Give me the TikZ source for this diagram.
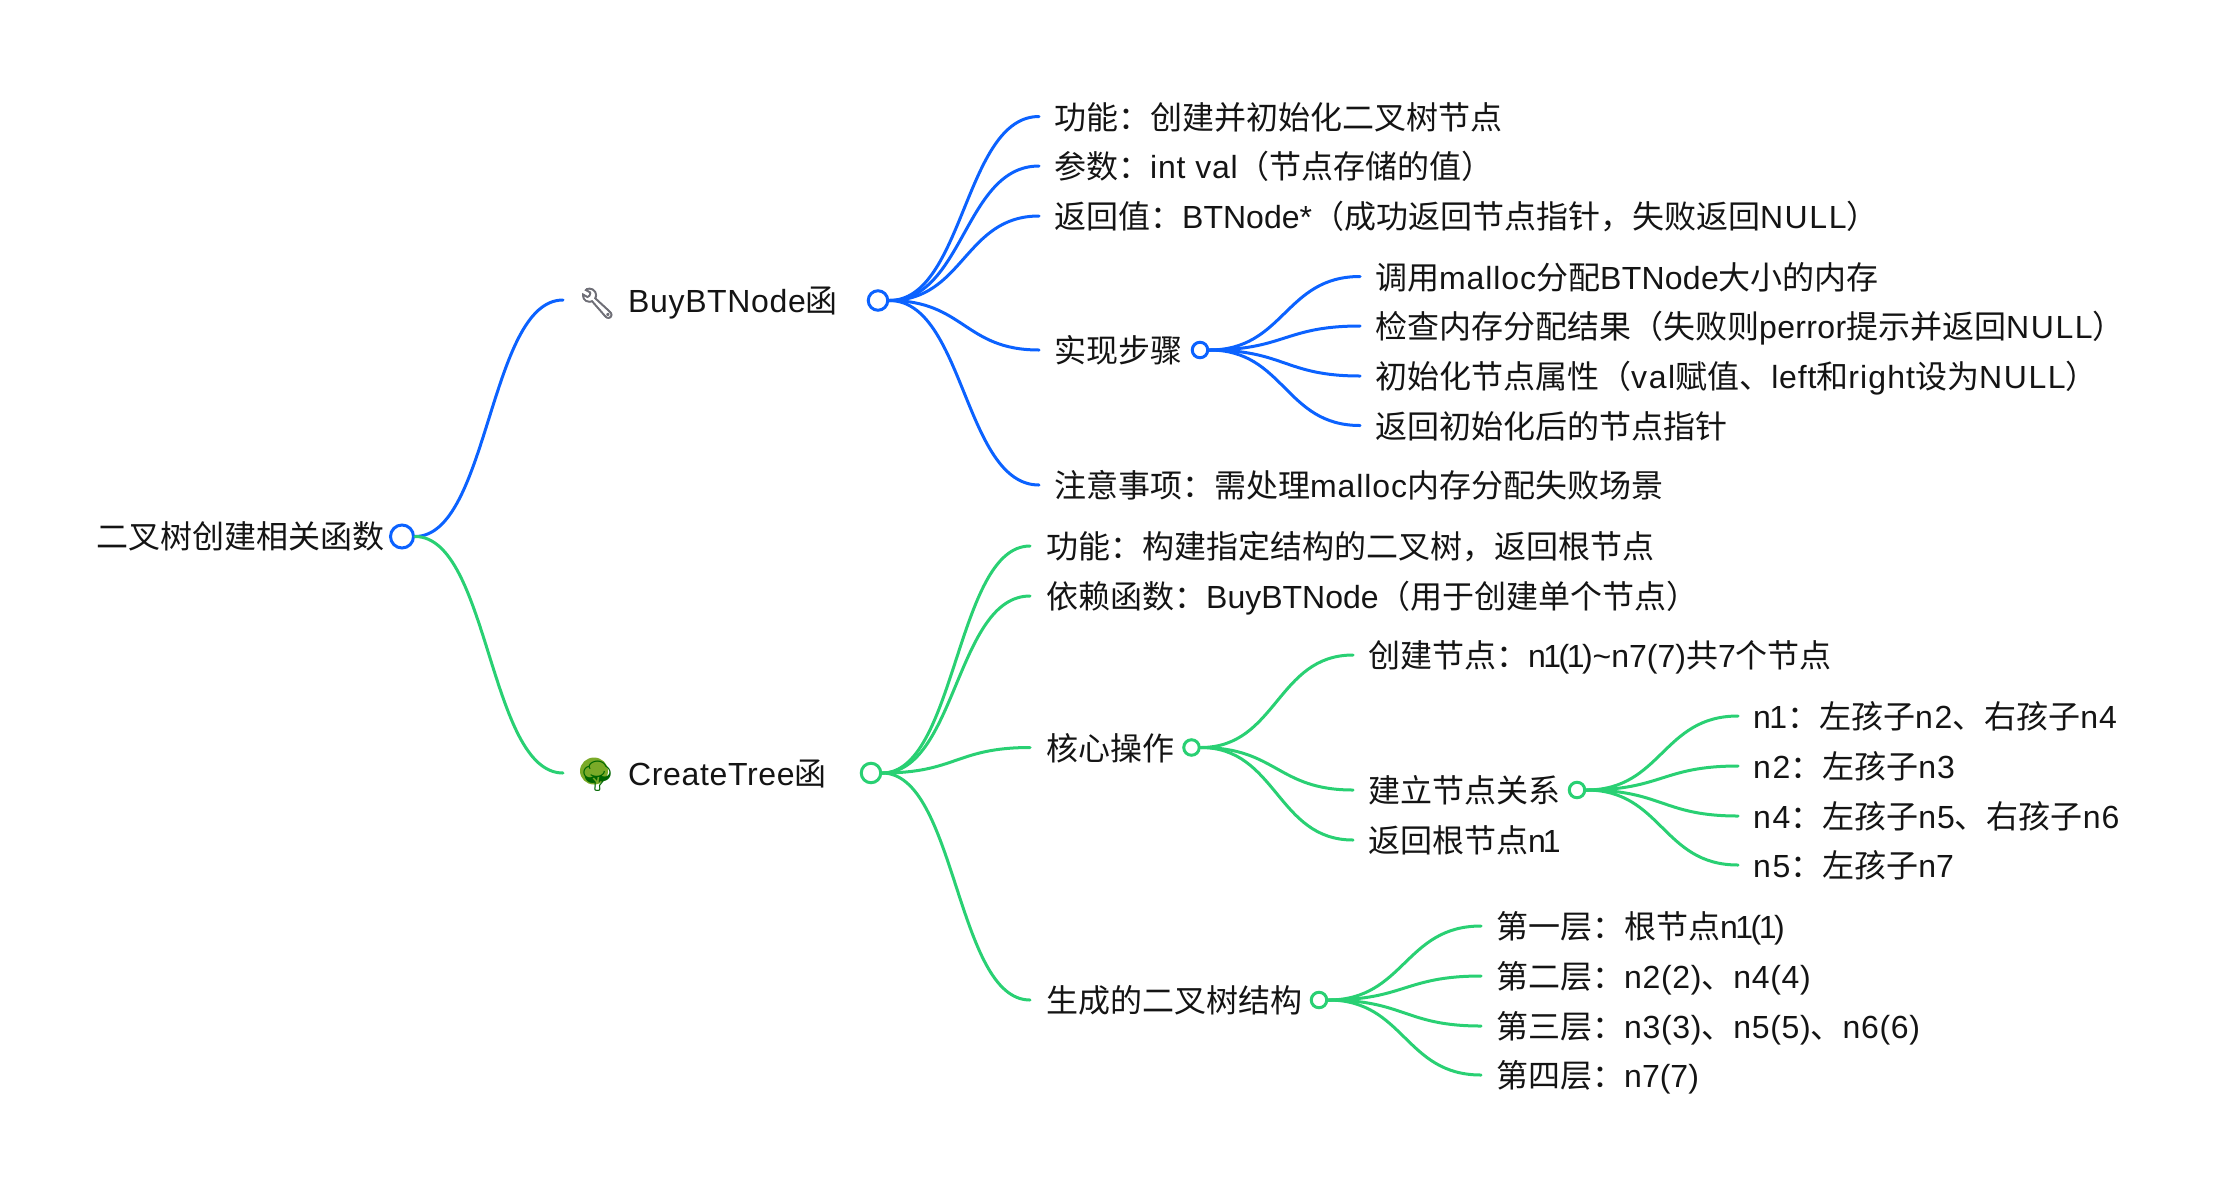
\documentclass[tikz,border=0pt]{standalone}
\usepackage{fontspec}
\usetikzlibrary{calc}
\setmainfont{Noto Sans CJK SC}
\newfontfamily\lt{Liberation Sans}
\newfontfamily\emojifont{Noto Emoji}
\newfontfamily\emojibold[FakeBold=2.5]{Noto Emoji}
\newcommand{\la}[2][0]{{\lt\addfontfeatures{LetterSpace=#1}#2}}
\definecolor{mapblue}{RGB}{11,98,255}
\definecolor{mapgreen}{RGB}{41,208,115}
\definecolor{ink}{RGB}{20,20,20}
\definecolor{treegreen}{RGB}{122,170,40}
\definecolor{toolgrey}{RGB}{110,110,118}
\tikzset{
  lab/.style={anchor=west,inner xsep=15pt,inner ysep=0pt,text height=28.5pt,text depth=3.5pt,font=\fontsize{32}{32}\selectfont,text=ink},
  labc/.style={lab,inner xsep=16pt},
  knob/.style={circle,draw,fill=white,line width=3pt,inner sep=0pt,minimum size=#1},
  blueline/.style={mapblue,line width=3pt,line cap=round},
  greenline/.style={mapgreen,line width=3pt,line cap=round},
  lnk/.style={to path={let \p1=(\tikztostart),\p2=(\tikztotarget),\n1={(\x1+\x2)/2} in .. controls (\n1,\y1) and (\n1,\y2) .. (\tikztotarget)}}
}
\begin{document}
\begin{tikzpicture}[x=1pt,y=1pt]
\useasboundingbox (0,0) rectangle (2224,-1192);
% root
\node[lab,inner xsep=0pt] (root) at (96,-536) {二叉树创建相关函数};
\node[knob=23pt,draw=mapblue] (rootk) at (402,-536.5) {};
% level 1
\fill[treegreen] (594,-771) ellipse (14 and 13.5);
\node[lab] (buy) at (563,-300) {\makebox[50pt][l]{\raisebox{-1pt}{\emojibold\fontsize{30}{30}\selectfont\textcolor{toolgrey}{🔧}}}\la[2]{BuyBTNode}函};
\node[knob=19.5pt,draw=mapblue] (buyk) at (878,-300.5) {};
\node[lab] (ct) at (563,-773) {\makebox[50pt][l]{\raisebox{-1pt}{\emojifont\fontsize{30}{30}\selectfont\textcolor{green!40!black}{🌳}}}\la[2]{CreateTree}函};
\node[knob=19.5pt,draw=mapgreen] (ctk) at (871,-773) {};
% Buy children
\node[lab] (b1) at (1039,-116.5) {功能：创建并初始化二叉树节点};
\node[lab] (b2) at (1039,-166) {参数：\la[2.5]{int val}（节点存储的值）};
\node[lab] (b3) at (1039,-216) {返回值：\la{BTNode*}（成功返回节点指针，失败返回\la[5]{NULL}）};
\node[lab] (b4) at (1039,-350) {实现步骤};
\node[knob=15.5pt,draw=mapblue] (b4k) at (1200,-350) {};
\node[lab] (b5) at (1039,-485) {注意事项：需处理\la[2.8]{malloc}内存分配失败场景};
% steps
\node[lab] (s1) at (1360,-276.5) {调用\la[2.8]{malloc}分配\la[0.8]{BTNode}大小的内存};
\node[lab] (s2) at (1360,-326) {检查内存分配结果（失败则\la[1]{perror}提示并返回\la[5]{NULL}）};
\node[lab] (s3) at (1360,-376) {初始化节点属性（\la[5]{val}赋值、\la[2.5]{left}和\la[3.5]{right}设为\la[5]{NULL}）};
\node[lab] (s4) at (1360,-425.5) {返回初始化后的节点指针};
% Create children
\node[labc] (c1) at (1030,-546) {功能：构建指定结构的二叉树，返回根节点};
\node[labc] (c2) at (1030,-596) {依赖函数：\la{BuyBTNode}（用于创建单个节点）};
\node[labc] (c3) at (1030,-747.5) {核心操作};
\node[knob=15.5pt,draw=mapgreen] (c3k) at (1191.5,-747.5) {};
\node[labc] (c4) at (1030,-1000) {生成的二叉树结构};
\node[knob=15.5pt,draw=mapgreen] (c4k) at (1319,-1000) {};
% core ops
\node[lab] (o1) at (1353,-655) {创建节点：\la[-8]{n1(1)}\la{\textasciitilde}\la{n7(7)}共\la{7}个节点};
\node[lab] (o2) at (1353,-790) {建立节点关系};
\node[knob=15.5pt,draw=mapgreen] (o2k) at (1577,-790) {};
\node[lab] (o3) at (1353,-840) {返回根节点\la[-10]{n1}};
% relations
\node[lab] (r1) at (1738,-716) {\la[-5]{n1}：左孩子\la[5]{n2}、右孩子\la[3]{n4}};
\node[lab] (r2) at (1738,-766) {\la[5]{n2}：左孩子\la[3]{n3}};
\node[lab] (r3) at (1738,-816) {\la[5]{n4}：左孩子\la[3]{n5}、右孩子\la[3]{n6}};
\node[lab] (r4) at (1738,-865) {\la[5]{n5}：左孩子\la{n7}};
% layers
\node[lab] (l1) at (1481,-926) {第一层：根节点\la[-8]{n1(1)}};
\node[lab] (l2) at (1481,-976) {第二层：\la[2]{n2(2)}、\la[2]{n4(4)}};
\node[lab] (l3) at (1481,-1026) {第三层：\la[2]{n3(3)}、\la[2]{n5(5)}、\la[2]{n6(6)}};
\node[lab] (l4) at (1481,-1075) {第四层：\la{n7(7)}};
% connectors
\draw[blueline] (rootk.east) to[lnk] (buy.west);
\draw[greenline] (rootk.east) to[lnk] (ct.west);
\foreach \t in {b1,b2,b3,b4,b5} \draw[blueline] (buyk.east) to[lnk] (\t.west);
\foreach \t in {s1,s2,s3,s4} \draw[blueline] (b4k.east) to[lnk] (\t.west);
\foreach \t in {c1,c2,c3,c4} \draw[greenline] (ctk.east) to[lnk] (\t.west);
\foreach \t in {o1,o2,o3} \draw[greenline] (c3k.east) to[lnk] (\t.west);
\foreach \t in {r1,r2,r3,r4} \draw[greenline] (o2k.east) to[lnk] (\t.west);
\foreach \t in {l1,l2,l3,l4} \draw[greenline] (c4k.east) to[lnk] (\t.west);
\end{tikzpicture}
\end{document}
